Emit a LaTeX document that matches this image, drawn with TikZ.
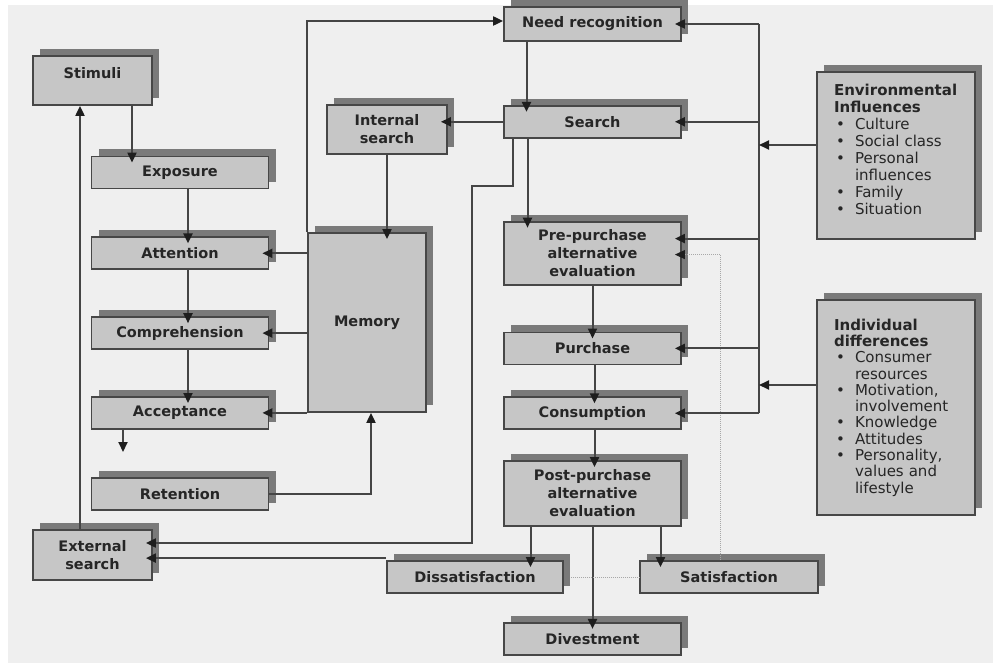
\documentclass[tikz,border=0pt]{standalone}
\usepackage{fontspec}
\setmainfont{DejaVu Sans}
\usetikzlibrary{positioning, arrows.meta, shadows}

\definecolor{bgcol}{HTML}{EFEFEF}
\definecolor{boxfill}{HTML}{C6C6C6}
\definecolor{boxline}{HTML}{474747}
\definecolor{linecol}{HTML}{454545}
\definecolor{tipcol}{HTML}{1E1E1E}
\definecolor{shadowcol}{HTML}{7A7A7A}
\definecolor{textcol}{HTML}{262626}
\definecolor{dotcol}{HTML}{A8A8A8}

\newcommand{\bitem}[1]{\hspace*{2pt}\makebox[19pt][l]{\textbullet}#1}
\newcommand{\bcont}[1]{\hspace*{21pt}#1}

\begin{document}
\begin{tikzpicture}[x=1pt, y=-1pt,
        box/.style={rectangle, draw=boxline, line width=1.8pt, fill=boxfill, minimum width=177pt, minimum height=32pt, inner sep=2pt, align=center, text=textcol, font=\bfseries\fontsize{14.5}{18}\selectfont, drop shadow={shadow xshift=7pt, shadow yshift=7pt, fill=shadowcol, opacity=1}},
        infobox/.style={rectangle, draw=boxline, line width=1.8pt, fill=boxfill, minimum width=158pt, inner xsep=17pt, text width=124pt, align=left, text=textcol, drop shadow={shadow xshift=7pt, shadow yshift=7pt, fill=shadowcol, opacity=1}},
        arrow/.style={-{Triangle[length=10pt,width=9pt,color=tipcol]}, line width=2pt, draw=linecol},
        link/.style={line width=2pt, draw=linecol},
        toshadow/.style={shorten >=-7pt},
        feedback/.style={densely dotted, line width=1pt, draw=dotcol},
        node distance=46pt
    ]
        \useasboundingbox (0,0) rectangle (993,666);
        \fill[white] (0,0) rectangle (993,666);
        \fill[bgcol] (8,5) rectangle (993,663);

        % consumer decision process
        \node[box, minimum height=34pt] (needrec) at (592.5,24) {Need recognition};
        \node[box, below=63pt of needrec] (search) {Search};
        \node[box, minimum height=63pt, below=82pt of search] (prepurch) {Pre-purchase\\alternative\\evaluation};
        \node[box, below=of prepurch] (purchase) {Purchase};
        \node[box, below=31pt of purchase] (consumption) {Consumption};
        \node[box, minimum height=65pt, below=30pt of consumption] (postpurch) {Post-purchase\\alternative\\evaluation};
        \node[box, below=95pt of postpurch] (divestment) {Divestment};
        \node[box, minimum width=176pt] (dissat) at (475,577) {Dissatisfaction};
        \node[box, minimum width=178pt] (satisf) at (729,577) {Satisfaction};

        % information processing
        \node[box, minimum width=119pt, minimum height=49pt, text depth=16pt] (stimuli) at (92.5,80.5) {Stimuli};
        \node[box] (exposure) at (180,172.5) {Exposure};
        \node[box, below=47pt of exposure] (attention) {Attention};
        \node[box, below=of attention] (comprehension) {Comprehension};
        \node[box, below=of comprehension] (acceptance) {Acceptance};
        \node[box, below=47pt of acceptance] (retention) {Retention};
        \node[box, minimum width=118pt, minimum height=179pt] (memory) at (367,322.5) {Memory};
        \node[box, minimum width=120pt, minimum height=49pt] (intsearch) at (387,129.5) {Internal\\search};
        \node[box, minimum width=119pt, minimum height=50pt] (extsearch) at (92.5,555) {External\\search};

        % influences
        \node[infobox, minimum height=167pt, font=\fontsize{15}{17}\selectfont] (envinf) at (896,155.5) {\textbf{Environmental}\\\textbf{Influences}\\\bitem{Culture}\\\bitem{Social class}\\\bitem{Personal}\\\bcont{influences}\\\bitem{Family}\\\bitem{Situation}\\[-4pt]\mbox{}};
        \node[infobox, minimum height=215pt, font=\fontsize{15}{16.3}\selectfont] (inddiff) at (896,407.5) {\textbf{Individual}\\\textbf{differences}\\\bitem{Consumer}\\\bcont{resources}\\\bitem{Motivation,}\\\bcont{involvement}\\\bitem{Knowledge}\\\bitem{Attitudes}\\\bitem{Personality,}\\\bcont{values and}\\\bcont{lifestyle}};

        % left column
        \draw[arrow, toshadow] ([xshift=39.5pt]stimuli.south) -- ([xshift=39.5pt]stimuli.south |- exposure.north);
        \draw[arrow, toshadow] ([xshift=8pt]exposure.south) -- ([xshift=8pt]attention.north);
        \draw[arrow, toshadow] ([xshift=8pt]attention.south) -- ([xshift=8pt]comprehension.north);
        \draw[arrow, toshadow] ([xshift=8pt]comprehension.south) -- ([xshift=8pt]acceptance.north);
        \coordinate (accout) at (123,452);
        \draw[arrow] (acceptance.south -| accout) -- (accout);
        \draw[arrow] (retention.east) -| ([xshift=4pt]memory.south);
        \draw[arrow, toshadow] (memory.west |- attention.east) -- (attention.east);
        \draw[arrow, toshadow] (memory.west |- comprehension.east) -- (comprehension.east);
        \draw[arrow, toshadow] (memory.south west) -- (memory.south west -| acceptance.east);
        \draw[arrow] (memory.north west) |- ([yshift=3pt]needrec.west);
        \draw[arrow, toshadow] (intsearch.south) -- (intsearch.south |- memory.north);
        \draw[arrow, toshadow] (search.west) -- (search.west -| intsearch.east);
        \draw[arrow] ([xshift=-12.5pt]extsearch.north) -- ([xshift=-12.5pt]stimuli.south);

        % middle column
        \draw[arrow, toshadow] ([xshift=-66pt]needrec.south) -- ([xshift=-66pt]search.north);
        \draw[arrow, toshadow] ([xshift=-65pt]search.south) -- ([xshift=-65pt]prepurch.north);
        \coordinate (bend) at (472,186);
        \draw[arrow, toshadow] ([xshift=-79.5pt]search.south) |- (bend) |- ([yshift=12pt]extsearch.east);
        \draw[arrow, toshadow] ([yshift=2pt]dissat.north west) -- ([yshift=2pt]dissat.north west -| extsearch.east);
        \draw[arrow, toshadow] (prepurch.south) -- (purchase.north);
        \draw[arrow, toshadow] ([xshift=2pt]purchase.south) -- ([xshift=2pt]consumption.north);
        \draw[arrow, toshadow] ([xshift=2pt]consumption.south) -- ([xshift=2pt]postpurch.north);
        \draw[arrow, toshadow] ([xshift=-62pt]postpurch.south) -- ([xshift=-62pt]postpurch.south |- dissat.north);
        \draw[arrow, toshadow] ([xshift=68pt]postpurch.south) -- ([xshift=68pt]postpurch.south |- satisf.north);
        \draw[arrow, toshadow] (postpurch.south) -- (divestment.north);
        \draw[feedback] ([xshift=7pt]dissat.east) -- (satisf.west);
        \draw[feedback, toshadow, -{Triangle[length=10pt,width=9pt,color=tipcol]}] ([xshift=-9pt]satisf.north) |- ([yshift=-1.5pt]prepurch.east);

        % influences bus
        \coordinate (bus) at (759,0);
        \draw[link] (bus |- needrec.east) -- (bus |- consumption.east);
        \draw[arrow, toshadow] (bus |- needrec.east) -- (needrec.east);
        \draw[arrow, toshadow] (bus |- search.east) -- (search.east);
        \draw[arrow, toshadow] ([yshift=14.5pt]prepurch.east -| bus) -- ([yshift=14.5pt]prepurch.east);
        \draw[arrow, toshadow] (bus |- purchase.east) -- (purchase.east);
        \draw[arrow, toshadow] (bus |- consumption.east) -- (consumption.east);
        \draw[arrow] ([yshift=10.5pt]envinf.west) -- ([yshift=10.5pt]envinf.west -| bus);
        \draw[arrow] ([yshift=22.5pt]inddiff.west) -- ([yshift=22.5pt]inddiff.west -| bus);
    \end{tikzpicture}
\end{document}
